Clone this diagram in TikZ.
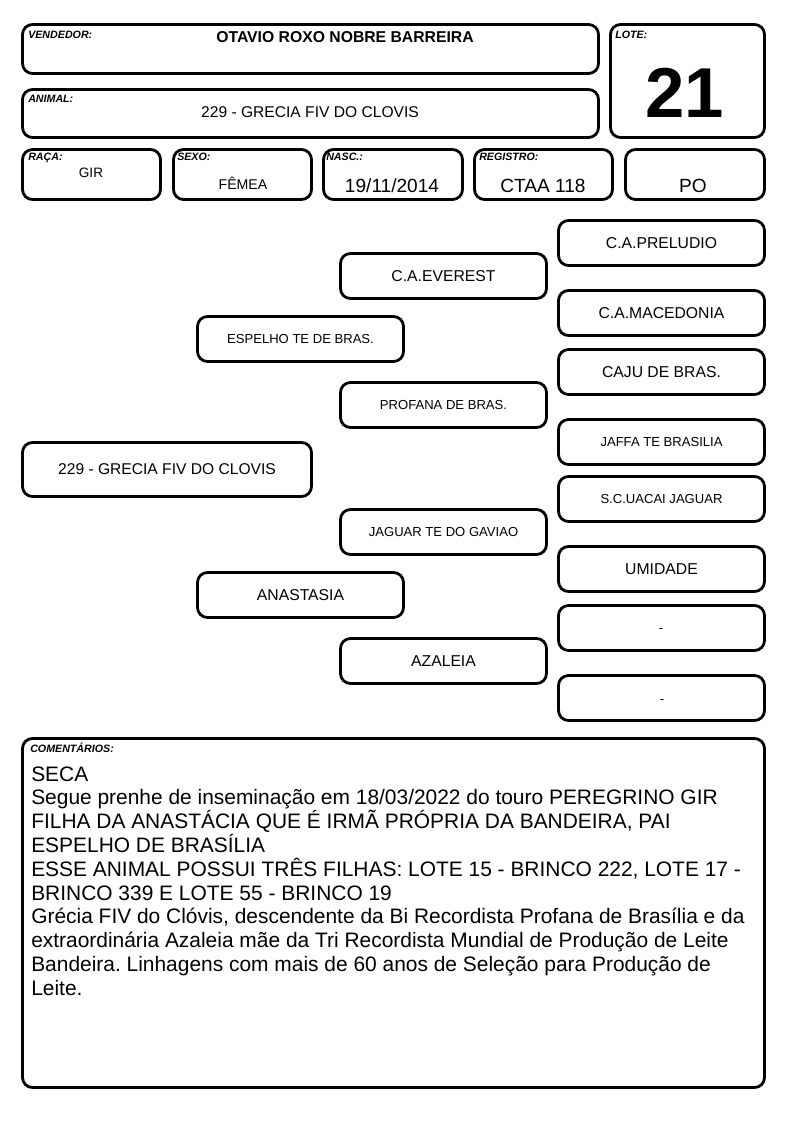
\documentclass[tikz,border=0pt]{standalone}
\usepackage{fontspec}
\setmainfont{Liberation Sans}
\frenchspacing
\def\px{0.75pt}
\tikzset{
  box/.style={draw=black, line width=2.1pt, rounded corners=7.5pt, inner sep=0pt},
  lab/.style={anchor=base west, inner sep=0pt, font=\fontsize{8}{9}\bfseries\itshape\selectfont},
  val/.style={anchor=base, inner sep=0pt, font=\fontsize{11.7}{14}\selectfont},
  bigval/.style={anchor=base, inner sep=0pt, font=\fontsize{14.3}{17}\selectfont},
  pedbig/.style={box, minimum width=206*\px, minimum height=45*\px, font=\fontsize{11.8}{14}\selectfont},
  pedsmall/.style={box, minimum width=206*\px, minimum height=45*\px, font=\fontsize{9.8}{12}\selectfont},
  dashtxt/.style={inner sep=0pt, font=\fontsize{9.8}{12}\selectfont},
}
\begin{document}
\begin{tikzpicture}[x=0.75pt, y=-0.75pt]
\useasboundingbox (0,0) rectangle (794,1123);
% header boxes
\node[box, minimum width=576*\px, minimum height=49*\px] (vend) at (310.5,49) {};
\node[box, minimum width=154*\px, minimum height=113*\px] (lote) at (687.5,81) {};
\node[box, minimum width=576*\px, minimum height=48*\px] (anim) at (310.5,113.5) {};
\node[box, minimum width=138*\px, minimum height=50*\px] (raca) at (91.5,174.5) {};
\node[box, minimum width=138*\px, minimum height=50*\px] (sexo) at (242.5,174.5) {};
\node[box, minimum width=139*\px, minimum height=50*\px] (nasc) at (393,174.5) {};
\node[box, minimum width=138*\px, minimum height=50*\px] (reg) at (543.5,174.5) {};
\node[box, minimum width=139*\px, minimum height=50*\px] (po) at (695,174.5) {};
% labels
\node[lab] (lvend) at (28,39) {VENDEDOR:};
\node[lab] (llote) at (615,38.5) {LOTE:};
\node[lab] (lanim) at (28,103) {ANIMAL:};
\node[lab] (lraca) at (28,161) {RAÇA:};
\node[lab] (lsexo) at (177,161) {SEXO:};
\node[lab] (lnasc) at (326,161) {NASC.:};
\node[lab] (lreg) at (479,161) {REGISTRO:};
% values
\node[val, font=\fontsize{11.8}{14}\bfseries\selectfont] (tvend) at (345,43) {OTAVIO ROXO NOBRE BARREIRA};
\node[anchor=base, inner sep=0pt, font=\fontsize{53}{58}\bfseries\selectfont] (tlote) at (684.5,118) {21};
\node[val] (tanim) at (310,118) {229 - GRECIA FIV DO CLOVIS};
\node[val, font=\fontsize{10.2}{12}\selectfont] (traca) at (91,177.5) {GIR};
\node[val, font=\fontsize{10.6}{12}\selectfont] (tsexo) at (243,189.5) {FÊMEA};
\node[bigval] (tnasc) at (392,193) {19/11/2014};
\node[bigval] (treg) at (543,193) {CTAA 118};
\node[bigval] (tpo) at (693,193) {PO};
% pedigree
\node[pedbig] (p1) at (661.5,243) {C.A.PRELUDIO};
\node[pedbig] (p2) at (443.5,276) {C.A.EVEREST};
\node[pedbig] (p3) at (661.5,313) {C.A.MACEDONIA};
\node[pedsmall] (p4) at (300.5,339) {ESPELHO TE DE BRAS.};
\node[pedbig] (p5) at (661.5,372) {CAJU DE BRAS.};
\node[pedsmall] (p6) at (443.5,405) {PROFANA DE BRAS.};
\node[pedsmall] (p7) at (661.5,442) {JAFFA TE BRASILIA};
\node[box, minimum width=289*\px, minimum height=54*\px, font=\fontsize{11.7}{14}\selectfont] (p8) at (167,469.5) {229 - GRECIA FIV DO CLOVIS};
\node[pedsmall] (p9) at (661.5,499) {S.C.UACAI JAGUAR};
\node[pedsmall] (p10) at (443.5,532) {JAGUAR TE DO GAVIAO};
\node[pedbig] (p11) at (661.5,569) {UMIDADE};
\node[pedbig] (p12) at (300.5,595) {ANASTASIA};
\node[pedsmall] (p13) at (661.5,628) {};
\node[dashtxt] (d13) at (661,630.5) {-};
\node[pedbig] (p14) at (443.5,661) {AZALEIA};
\node[pedsmall] (p15) at (661.5,698) {};
\node[dashtxt] (d15) at (662,701.5) {-};
% comments
\node[box, minimum width=742*\px, minimum height=349*\px] (com) at (393.5,913) {};
\node[lab] (lcom) at (30,752.5) {COMENTÁRIOS:};
\node[anchor=north west, inner sep=0pt, align=left, font=\fontsize{15.7}{17.85}\selectfont] (tcom) at (31,766.2) {SECA\\
Segue prenhe de inseminação em 18/03/2022 do touro PEREGRINO GIR\\
FILHA DA ANASTÁCIA QUE É IRMÃ PRÓPRIA DA BANDEIRA, PAI\\
ESPELHO DE BRASÍLIA\\
ESSE ANIMAL POSSUI TRÊS FILHAS: LOTE 15 - BRINCO 222, LOTE 17 -\\
BRINCO 339 E LOTE 55 - BRINCO 19\\
Grécia FIV do Clóvis, descendente da Bi Recordista Profana de Brasília e da\\
extraordinária Azaleia mãe da Tri Recordista Mundial de Produção de Leite\\
Bandeira. Linhagens com mais de 60 anos de Seleção para Produção de\\
Leite.};
\end{tikzpicture}
\end{document}
